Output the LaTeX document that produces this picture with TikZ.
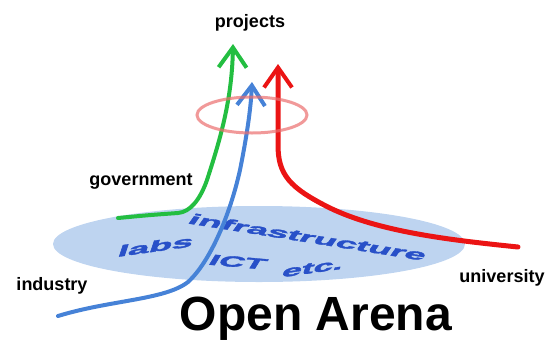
\documentclass[tikz,border=0pt]{standalone}
\usepackage{fontspec}
\setmainfont{Liberation Sans}
\newfontfamily\platefont[FakeBold=2]{Liberation Sans Bold}
\usetikzlibrary{arrows.meta}
\definecolor{plate}{RGB}{190,212,240}
\definecolor{platetext}{RGB}{40,80,200}
\definecolor{gArrow}{RGB}{35,190,65}
\definecolor{bArrow}{RGB}{70,130,215}
\definecolor{rArrow}{RGB}{235,20,20}
\definecolor{ring}{RGB}{235,110,110}
\tikzset{
  lab/.style={font=\bfseries\fontsize{18}{20}\selectfont, anchor=base, inner sep=0pt},
  platelab/.style={font=\platefont\fontsize{21}{22}\selectfont, text=platetext, inner sep=0pt},
  flow/.style={line width=4pt, line cap=round, -{Straight Barb[length=20pt,width=28pt,line width=4pt]}},
}
\begin{document}
\begin{tikzpicture}[x=1pt,y=-1pt]
\useasboundingbox (0,0) rectangle (554,341);
% plate
\fill[plate] (259,244) ellipse [x radius=206, y radius=38];
\node[platelab, rotate=-9, xslant=0.5, xscale=1.75, yscale=0.72] (infra) at (308,237) {infrastructure};
\node[platelab, rotate=8, xslant=0.5, xscale=1.8, yscale=0.72] (labs) at (156,246) {labs};
\node[platelab, rotate=-5, xslant=0.5, xscale=1.65, yscale=0.72] (ict) at (238,262) {ICT};
\node[platelab, rotate=8, xslant=0.5, xscale=1.7, yscale=0.72] (etc) at (313,268) {etc.};
% endpoints
\coordinate (gs) at (118,218);
\coordinate (gt) at (233,44);
\coordinate (bs) at (58,316);
\coordinate (bt) at (252,82);
\coordinate (rs) at (518,247);
\coordinate (rt) at (278,64);
% arrows
\draw[flow, gArrow] (gs) .. controls (150,215) .. (178,213) .. controls (190,212) and (200,200) .. (207,180) .. controls (220,140) and (232,100) .. (gt);
\draw[flow, bArrow] (bs) .. controls (110,300) and (165,300) .. (188,282) .. controls (210,262) and (230,215) .. (240,170) .. controls (248,130) and (251,105) .. (bt);
\draw[flow, rArrow, line width=5pt] (rs) .. controls (450,240) and (380,232) .. (330,208) .. controls (290,188) and (278,175) .. (278,145) -- (rt);
% ring
\draw[ring, line width=3pt, opacity=0.7] (252,115) ellipse [x radius=55, y radius=18];
% labels
\node[lab] (projects) at (250,27) {projects};
\node[lab] (gov) at (141,185) {government};
\node[lab] (ind) at (52,290) {industry};
\node[lab] (uni) at (502,282) {university};
\node[font=\bfseries\fontsize{48}{50}\selectfont, anchor=base, inner sep=0pt] (arena) at (316,330) {Open Arena};
\end{tikzpicture}
\end{document}
